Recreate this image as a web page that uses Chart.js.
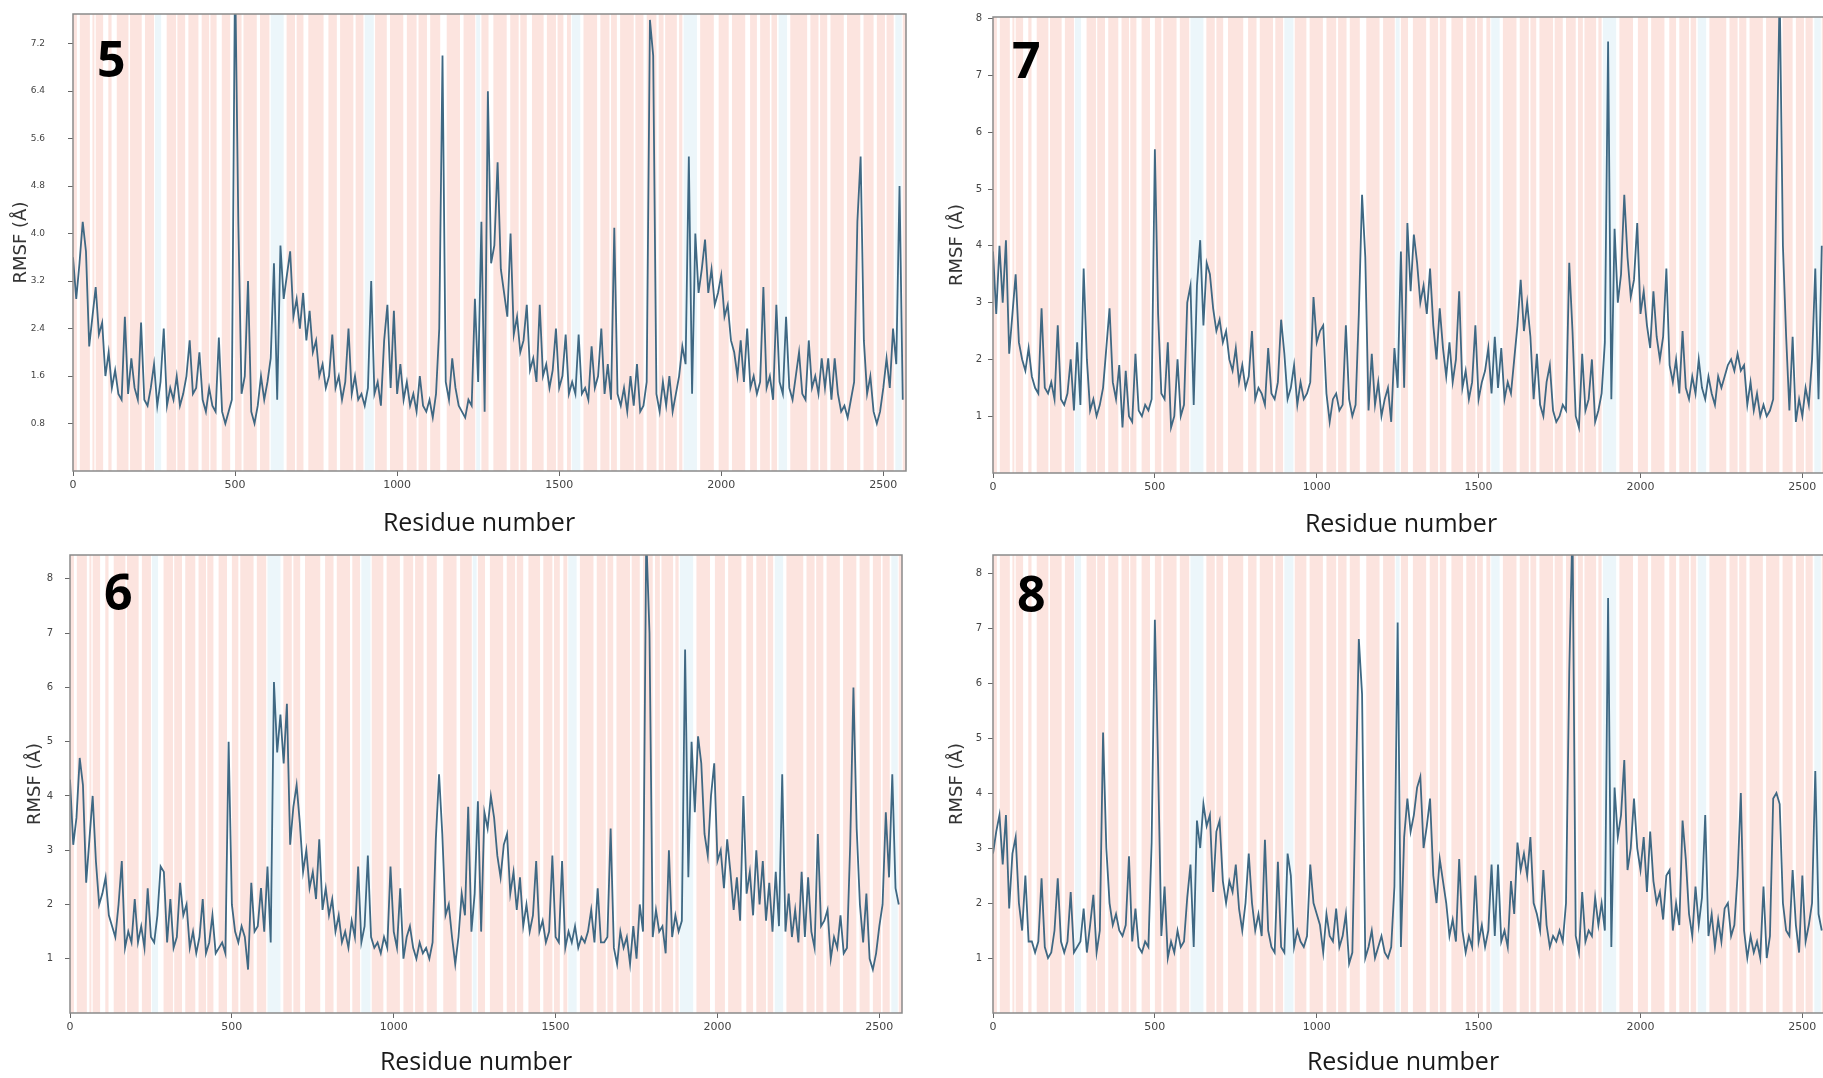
<!DOCTYPE html>
<html>
<head>
<meta charset="utf-8">
<script src="https://cdn.jsdelivr.net/npm/chart.js@4.4.0/dist/chart.umd.min.js"></script>
<style>
  html, body { margin: 0; padding: 0; background: #fff; overflow: hidden; width: 1823px; height: 1078px; }
  canvas { position: absolute; }
</style>
</head>
<body>
<canvas id="p5" width="920" height="540" style="left:0;top:0"></canvas>
<canvas id="p7" width="920" height="540" style="left:920px;top:0"></canvas>
<canvas id="p6" width="920" height="538" style="left:0;top:540px"></canvas>
<canvas id="p8" width="920" height="538" style="left:920px;top:540px"></canvas>
<script>
// residue grid, one sample every 10 residues
const residues = Array.from({ length: 257 }, (_, i) => i * 10);

const rmsf5 = [
  3.6, 2.9, 3.5, 4.2, 3.7, 2.1, 2.6, 3.1, 2.3, 2.5,
  1.6, 2.0, 1.4, 1.7, 1.3, 1.2, 2.6, 1.3, 1.9, 1.4,
  1.2, 2.5, 1.2, 1.1, 1.4, 1.8, 1.1, 1.5, 2.4, 1.1,
  1.4, 1.2, 1.6, 1.1, 1.3, 1.6, 2.2, 1.3, 1.4, 2.0,
  1.2, 1.0, 1.4, 1.1, 1.0, 2.25, 1.0, 0.8, 1.0, 1.2,
  8.5, 4.2, 1.3, 1.6, 3.2, 1.0, 0.8, 1.1, 1.6, 1.2,
  1.5, 1.9, 3.5, 1.2, 3.8, 2.9, 3.3, 3.7, 2.6, 2.9,
  2.4, 3.0, 2.2, 2.7, 2.0, 2.2, 1.6, 1.8, 1.4, 1.6,
  2.3, 1.4, 1.6, 1.2, 1.5, 2.4, 1.3, 1.6, 1.2, 1.3,
  1.1, 1.4, 3.2, 1.3, 1.5, 1.1, 2.2, 2.8, 1.4, 2.7,
  1.3, 1.8, 1.2, 1.5, 1.1, 1.3, 1.0, 1.6, 1.1, 1.0,
  1.2, 0.9, 1.3, 2.4, 7.0, 1.5, 1.2, 1.9, 1.4, 1.1,
  1.0, 0.9, 1.2, 1.1, 2.9, 1.5, 4.2, 1.0, 6.4, 3.5,
  3.8, 5.2, 3.4, 3.0, 2.6, 4.0, 2.3, 2.6, 2.0, 2.2,
  2.8, 1.7, 1.9, 1.5, 2.8, 1.6, 1.8, 1.4, 1.7, 2.4,
  1.4, 1.6, 2.3, 1.3, 1.5, 1.3, 2.3, 1.3, 1.4, 1.2,
  2.1, 1.4, 1.6, 2.4, 1.3, 1.8, 1.2, 4.1, 1.3, 1.1,
  1.4, 1.0, 1.6, 1.1, 1.8, 1.0, 1.1, 1.5, 7.6, 7.0,
  1.3, 1.0, 1.5, 1.1, 1.6, 1.0, 1.3, 1.6, 2.1, 1.8,
  5.3, 1.3, 4.0, 3.0, 3.4, 3.9, 3.0, 3.4, 2.8, 3.0,
  3.3, 2.6, 2.8, 2.2, 2.0, 1.6, 2.2, 1.5, 2.4, 1.4,
  1.6, 1.3, 1.5, 3.1, 1.4, 1.6, 1.2, 2.8, 1.5, 1.3,
  2.6, 1.4, 1.2, 1.6, 2.0, 1.3, 1.2, 2.2, 1.4, 1.6,
  1.3, 1.9, 1.4, 1.9, 1.2, 1.9, 1.3, 1.0, 1.1, 0.9,
  1.2, 1.5, 4.2, 5.3, 2.2, 1.3, 1.6, 1.0, 0.8, 1.0,
  1.4, 1.9, 1.4, 2.4, 1.8, 4.8, 1.2
];

const rmsf7 = [
  3.9, 2.8, 4.0, 3.0, 4.1, 2.1, 2.8, 3.5, 2.3, 2.0,
  1.8, 2.2, 1.7, 1.5, 1.4, 2.9, 1.5, 1.4, 1.6, 1.3,
  2.6, 1.3, 1.2, 1.4, 2.0, 1.1, 2.3, 1.2, 3.6, 2.0,
  1.1, 1.3, 1.0, 1.2, 1.5, 2.2, 2.9, 1.6, 1.3, 1.9,
  0.8, 1.8, 1.0, 0.9, 2.1, 1.1, 1.0, 1.2, 1.1, 1.3,
  5.7, 2.8, 1.4, 1.3, 2.3, 0.8, 1.0, 2.0, 1.0, 1.2,
  3.0, 3.3, 1.2, 3.3, 4.1, 2.6, 3.7, 3.5, 2.9, 2.5,
  2.7, 2.3, 2.5, 2.0, 1.8, 2.2, 1.6, 1.9, 1.5, 1.7,
  2.5, 1.3, 1.5, 1.4, 1.2, 2.2, 1.4, 1.3, 1.6, 2.7,
  2.1, 1.3, 1.5, 1.9, 1.2, 1.6, 1.3, 1.4, 1.6, 3.1,
  2.3, 2.5, 2.6, 1.4, 0.9, 1.3, 1.4, 1.1, 1.2, 2.6,
  1.3, 1.0, 1.2, 2.8, 4.9, 3.8, 1.1, 2.1, 1.2, 1.6,
  1.0, 1.3, 1.5, 0.9, 2.2, 1.5, 3.9, 1.5, 4.4, 3.2,
  4.2, 3.7, 3.0, 3.3, 2.8, 3.6, 2.6, 2.0, 2.9, 2.2,
  1.7, 2.3, 1.6, 2.0, 3.2, 1.5, 1.8, 1.3, 1.6, 2.6,
  1.3, 1.6, 1.8, 2.2, 1.4, 2.4, 1.5, 2.2, 1.3, 1.6,
  1.4, 2.0, 2.6, 3.4, 2.5, 3.0, 2.4, 1.3, 2.1, 1.2,
  1.0, 1.6, 1.9, 1.1, 0.9, 1.0, 1.2, 1.1, 3.7, 2.5,
  1.0, 0.8, 2.1, 1.1, 1.3, 2.0, 0.9, 1.1, 1.4, 2.3,
  7.6, 1.3, 4.3, 3.0, 3.5, 4.9, 3.8, 3.1, 3.4, 4.4,
  2.8, 3.2, 2.6, 2.2, 3.2, 2.4, 2.0, 2.4, 3.6, 1.9,
  1.6, 2.0, 1.4, 2.5, 1.5, 1.3, 1.7, 1.4, 2.0, 1.5,
  1.3, 1.7, 1.4, 1.2, 1.7, 1.5, 1.7, 1.9, 2.0, 1.8,
  2.1, 1.8, 1.9, 1.2, 1.6, 1.1, 1.4, 1.0, 1.2, 1.0,
  1.1, 1.3, 5.2, 8.5, 4.0, 2.4, 1.1, 2.4, 0.9, 1.3,
  1.0, 1.5, 1.2, 2.0, 3.6, 1.3, 4.0
];

const rmsf6 = [
  4.3, 3.1, 3.6, 4.7, 4.2, 2.4, 3.2, 4.0, 2.8, 2.0,
  2.2, 2.5, 1.8, 1.6, 1.4, 2.0, 2.8, 1.2, 1.5, 1.3,
  2.1, 1.3, 1.6, 1.2, 2.3, 1.4, 1.3, 1.8, 2.7, 2.6,
  1.3, 2.1, 1.2, 1.4, 2.4, 1.8, 2.0, 1.2, 1.5, 1.1,
  1.4, 2.1, 1.1, 1.3, 1.8, 1.1, 1.2, 1.3, 1.1, 5.0,
  2.0, 1.5, 1.3, 1.6, 1.4, 0.8, 2.4, 1.5, 1.6, 2.3,
  1.5, 2.7, 1.3, 6.1, 4.8, 5.5, 4.6, 5.7, 3.1, 3.8,
  4.2, 3.5, 2.6, 3.0, 2.3, 2.6, 2.1, 3.2, 1.9, 2.3,
  1.8, 2.1, 1.5, 1.8, 1.3, 1.5, 1.2, 1.7, 1.4, 2.7,
  1.3, 1.6, 2.9, 1.4, 1.2, 1.3, 1.1, 1.4, 1.2, 2.7,
  1.5, 1.2, 2.3, 1.0, 1.4, 1.6, 1.2, 1.0, 1.3, 1.1,
  1.2, 1.0, 1.3, 3.2, 4.4, 3.3, 1.8, 2.0, 1.4, 0.9,
  1.4, 2.2, 1.8, 3.8, 1.5, 2.2, 3.9, 1.5, 3.7, 3.4,
  4.0, 3.6, 2.9, 2.5, 3.1, 3.3, 2.2, 2.6, 1.9, 2.5,
  1.6, 2.0, 1.5, 1.8, 2.8, 1.5, 1.7, 1.3, 1.5, 2.9,
  1.4, 1.3, 2.8, 1.2, 1.5, 1.3, 1.6, 1.2, 1.4, 1.3,
  1.5, 1.9, 1.3, 2.3, 1.3, 1.3, 1.4, 3.4, 1.2, 0.9,
  1.5, 1.2, 1.4, 0.9, 1.6, 1.0, 2.0, 1.5, 8.8, 7.0,
  1.4, 1.9, 1.5, 1.6, 1.1, 3.0, 1.4, 1.8, 1.5, 1.7,
  6.7, 2.5, 5.0, 3.7, 5.1, 4.6, 3.3, 2.9, 4.0, 4.6,
  2.8, 3.0, 2.3, 3.2, 2.6, 1.9, 2.5, 1.7, 4.0, 2.2,
  2.6, 1.8, 3.0, 2.0, 2.8, 1.7, 2.4, 1.5, 2.6, 1.6,
  4.4, 1.5, 2.2, 1.4, 1.9, 1.3, 2.6, 1.4, 2.5, 1.5,
  1.2, 3.3, 1.6, 1.7, 1.9, 1.0, 1.4, 1.2, 1.8, 1.1,
  1.2, 3.1, 6.0, 3.4, 2.0, 1.3, 2.2, 1.0, 0.8, 1.1,
  1.6, 2.0, 3.7, 2.5, 4.4, 2.3, 2.0
];

const rmsf8 = [
  2.9, 3.3, 3.6, 2.7, 3.6, 1.9, 2.9, 3.2, 2.0, 1.5,
  2.5, 1.3, 1.3, 1.1, 1.3, 2.45, 1.2, 1.0, 1.1, 1.5,
  2.45, 1.3, 1.1, 1.3, 2.2, 1.1, 1.2, 1.3, 1.9, 1.1,
  1.6, 2.15, 1.1, 1.5, 5.1, 3.0, 2.0, 1.6, 1.8, 1.5,
  1.4, 1.6, 2.85, 1.3, 1.9, 1.2, 1.1, 1.3, 1.2, 3.1,
  7.15, 4.5, 1.4, 2.3, 1.0, 1.3, 1.1, 1.5, 1.2, 1.3,
  2.1, 2.7, 1.2, 3.5, 3.0, 3.8, 3.4, 3.6, 2.2, 3.3,
  3.5, 2.4, 2.0, 2.4, 2.2, 2.7, 1.9, 1.5, 2.0, 2.9,
  2.0, 1.5, 1.8, 1.4, 3.15, 1.5, 1.2, 1.1, 2.75, 1.2,
  1.1, 2.9, 2.5, 1.2, 1.5, 1.3, 1.2, 1.4, 2.7, 2.0,
  1.8, 1.6, 1.1, 1.8, 1.4, 1.3, 1.9, 1.2, 1.4, 1.8,
  0.9, 1.1, 3.9, 6.8, 5.8, 1.0, 1.2, 1.5, 1.0, 1.2,
  1.4, 1.1, 1.0, 1.2, 2.3, 7.1, 1.2, 3.2, 3.9, 3.3,
  3.6, 4.1, 4.3, 3.0, 3.4, 3.9, 2.5, 2.0, 2.8, 2.4,
  2.0, 1.4, 1.7, 1.3, 2.8, 1.5, 1.1, 1.4, 1.2, 2.5,
  1.3, 1.6, 1.2, 1.5, 2.7, 1.4, 2.7, 1.3, 1.5, 1.2,
  2.4, 1.8, 3.1, 2.6, 2.9, 2.5, 3.2, 2.0, 1.8, 1.5,
  2.6, 1.6, 1.2, 1.4, 1.3, 1.5, 1.3, 2.0, 6.2, 8.9,
  1.4, 1.1, 2.2, 1.3, 1.5, 1.4, 2.1, 1.6, 2.0, 1.5,
  7.55, 1.2, 4.1, 3.2, 3.6, 4.6, 2.6, 3.0, 3.9, 3.0,
  2.6, 3.2, 2.2, 3.3, 2.4, 2.0, 2.2, 1.7, 2.5, 2.6,
  1.5, 2.0, 1.6, 3.5, 2.8, 1.8, 1.4, 2.3, 1.6, 2.1,
  3.6, 1.4, 1.8, 1.2, 1.7, 1.3, 1.9, 2.0, 1.4, 1.6,
  2.5, 4.0, 1.5, 1.0, 1.4, 1.1, 1.3, 1.0, 2.3, 1.0,
  1.4, 3.9, 4.0, 3.8, 2.0, 1.5, 1.4, 2.6, 1.6, 1.1,
  2.5, 1.3, 1.6, 2.0, 4.4, 1.8, 1.5
];

// secondary structure bands, [first residue, last residue]
const helixBands = [
  [0, 12], [21, 52], [60, 66], [70, 93], [109, 119], [135, 171], [176, 212], [222, 250],
  [289, 318], [322, 346], [356, 387], [397, 420], [424, 443], [459, 485], [500, 520],
  [526, 567], [577, 606], [659, 685], [690, 711], [726, 773], [788, 814], [824, 865],
  [872, 896], [932, 968], [978, 1019], [1030, 1060], [1066, 1092], [1102, 1133],
  [1153, 1194], [1205, 1241], [1260, 1282], [1297, 1338], [1349, 1375], [1380, 1400],
  [1416, 1452], [1462, 1490], [1495, 1513], [1524, 1536], [1575, 1617], [1627, 1655],
  [1660, 1678], [1688, 1730], [1735, 1760], [1770, 1800], [1807, 1822], [1827, 1863],
  [1870, 1880], [1935, 1977], [1992, 2023], [2033, 2074], [2089, 2110], [2120, 2150],
  [2155, 2172], [2213, 2265], [2275, 2300], [2305, 2327], [2337, 2378], [2388, 2429],
  [2439, 2470], [2480, 2505], [2510, 2532], [2560, 2570]
];
const strandBands = [
  [253, 272], [610, 650], [900, 928], [1244, 1256], [1539, 1565], [1884, 1925],
  [2177, 2203], [2537, 2557]
];

const xTicks = [0, 500, 1000, 1500, 2000, 2500];
const yTicks5 = [0.8, 1.6, 2.4, 3.2, 4.0, 4.8, 5.6, 6.4, 7.2];
const yTicksInt = [1, 2, 3, 4, 5, 6, 7, 8];

const lineColor = '#3f6883';
const xTitle = 'Residue number';

const backdrop = {
  id: 'backdrop',
  beforeDatasetsDraw(chart) {
    const { ctx, chartArea: a, scales: { x } } = chart;
    ctx.save();
    ctx.beginPath();
    ctx.rect(a.left, a.top, a.right - a.left, a.bottom - a.top);
    ctx.clip();
    const paint = (list, color) => {
      ctx.fillStyle = color;
      list.forEach(([s, e]) => {
        const x0 = x.getPixelForValue(s);
        const x1 = x.getPixelForValue(e);
        ctx.fillRect(x0, a.top, x1 - x0, a.bottom - a.top);
      });
    };
    paint(helixBands, '#fce4df');
    paint(strandBands, '#ecf6fa');
    ctx.restore();
  },
  afterDraw(chart, args, opts) {
    const { ctx, chartArea: a } = chart;
    ctx.save();
    ctx.strokeStyle = '#8a8a8a';
    ctx.lineWidth = 1.5;
    ctx.strokeRect(a.left, a.top, a.right - a.left, a.bottom - a.top);
    ctx.fillStyle = '#000';
    ctx.font = 'bold 50px "Open Sans", sans-serif';
    ctx.textBaseline = 'alphabetic';
    ctx.textAlign = 'left';
    ctx.fillText(opts.label, a.left + opts.dx, a.top + opts.dy);
    // x axis title, placed a little left of centre as in the source figure
    ctx.fillStyle = '#1a1a1a';
    ctx.font = '25px "Open Sans", sans-serif';
    ctx.textAlign = 'center';
    ctx.textBaseline = 'middle';
    ctx.fillText(xTitle, opts.titleX, opts.titleY);
    ctx.restore();
  }
};

function makePanel(p) {
  const points = residues.map((r, i) => ({ x: r, y: p.values[i] }));
  new Chart(document.getElementById(p.id), {
    type: 'line',
    data: {
      datasets: [{
        data: points,
        borderColor: lineColor,
        borderWidth: 1.8,
        pointRadius: 0,
        tension: 0,
        fill: false
      }]
    },
    options: {
      responsive: false,
      animation: false,
      layout: { padding: p.pad },
      plugins: {
        legend: { display: false },
        tooltip: { enabled: false },
        backdrop: { label: p.label, dx: p.labelAt[0], dy: p.labelAt[1], titleX: p.titleAt[0], titleY: p.titleAt[1] }
      },
      scales: {
        x: {
          type: 'linear',
          min: 0,
          max: 2570,
          afterBuildTicks: s => { s.ticks = xTicks.map(v => ({ value: v })); },
          afterFit: s => { s.height = p.xHeight; s.paddingLeft = 0; s.paddingRight = 0; },
          grid: { drawOnChartArea: false, tickLength: 5, color: '#666' },
          border: { display: false },
          ticks: {
            maxRotation: 0,
            autoSkip: false,
            padding: 3,
            color: '#444',
            font: { family: '"DejaVu Sans"', size: 11 },
            callback: v => String(v)
          }
        },
        y: {
          min: 0,
          max: p.yMax,
          afterBuildTicks: s => { s.ticks = p.yTicks.map(v => ({ value: v })); },
          afterFit: s => { s.width = p.yWidth; s.paddingTop = 0; s.paddingBottom = 0; },
          grid: { drawOnChartArea: false, tickLength: 5, color: '#666' },
          border: { display: false },
          ticks: {
            padding: p.tickPad,
            color: '#444',
            font: { family: '"DejaVu Sans"', size: p.tickSize },
            callback: v => Number(v).toFixed(p.digits)
          },
          title: {
            display: true,
            text: 'RMSF (Å)',
            color: '#333',
            font: { family: '"DejaVu Sans"', size: 18 },
            padding: { top: p.titlePad, bottom: 0 }
          }
        }
      }
    },
    plugins: [backdrop]
  });
}

[
  { id: 'p5', label: '5', values: rmsf5, yMax: 7.7, yTicks: yTicks5, digits: 1, tickSize: 9,
    pad: { left: 0, top: 14, right: 14, bottom: 0 }, yWidth: 73, xHeight: 69,
    tickPad: 23, titlePad: 11, labelAt: [24, 63], titleAt: [479, 524] },
  { id: 'p7', label: '7', values: rmsf7, yMax: 8.03, yTicks: yTicksInt, digits: 0, tickSize: 10,
    pad: { left: 0, top: 17, right: 15, bottom: 0 }, yWidth: 73, xHeight: 67,
    tickPad: 6, titlePad: 27, labelAt: [19, 61], titleAt: [481, 525] },
  { id: 'p6', label: '6', values: rmsf6, yMax: 8.44, yTicks: yTicksInt, digits: 0, tickSize: 10,
    pad: { left: 0, top: 15, right: 18, bottom: 0 }, yWidth: 70, xHeight: 65,
    tickPad: 12, titlePad: 25, labelAt: [34, 55], titleAt: [476, 523] },
  { id: 'p8', label: '8', values: rmsf8, yMax: 8.33, yTicks: yTicksInt, digits: 0, tickSize: 10,
    pad: { left: 0, top: 15, right: 15, bottom: 0 }, yWidth: 73, xHeight: 65,
    tickPad: 6, titlePad: 27, labelAt: [24, 57], titleAt: [483, 523] }
].forEach(makePanel);
</script>
</body>
</html>
